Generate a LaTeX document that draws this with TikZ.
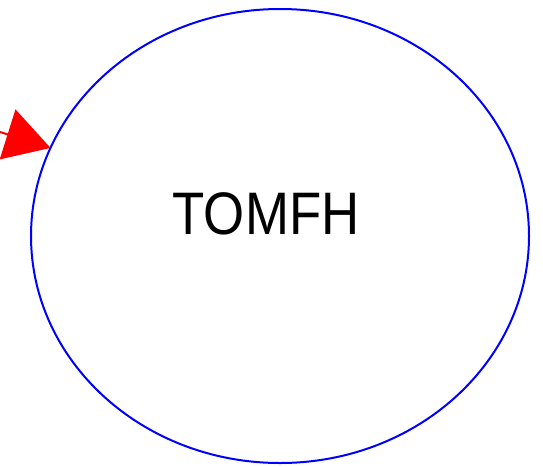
\documentclass[tikz,border=0pt]{standalone}
\usepackage{fontspec}
\newfontfamily\statefont[FakeStretch=0.88]{Liberation Sans}
\definecolor{stateBlue}{RGB}{0, 0, 255}
\definecolor{edgeRed}{RGB}{255, 0, 0}
\usepackage{tikz}
\usetikzlibrary{positioning, shapes.geometric, arrows.meta}
\tikzset{
  stateE/.style={ellipse, draw=stateBlue, line width=2pt,
                 minimum width=498pt, minimum height=454pt,
                 inner sep=0pt, outer sep=0pt},
  statename/.style={font=\statefont\fontsize{60}{72}\selectfont,
                    inner sep=0pt, text=black},
}

\begin{document}
\begin{tikzpicture}[
    x=1pt, y=-1pt,
    edge/.style={edgeRed, line width=2pt,
                 -{Triangle[length=45pt, width=52pt]}},
  ]
    \useasboundingbox (0,0) rectangle (543,466);

    % state
    \node[stateE] (TOMFH) at (280,236) {};
    \node[statename, anchor=center] (TOMFHlbl) at (266,214) {TOMFH};

    % incoming edge
    \coordinate (src) at (0,132);
    \draw[edge] (src) -- (TOMFH.159.5);
  \end{tikzpicture}
\end{document}
